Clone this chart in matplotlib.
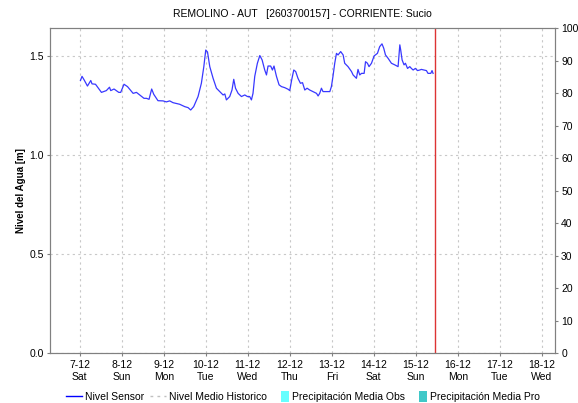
import datetime as dt

import matplotlib
matplotlib.use("Agg")
import matplotlib.pyplot as plt
import matplotlib.dates as mdates
from matplotlib.legend_handler import HandlerPatch
from matplotlib.lines import Line2D
from matplotlib.patches import Patch, Rectangle

# sensor readings: hours after 2019-12-07 00:00 and water level in metres
hours = [0.4, 1.3, 2.5, 4.4, 6.3, 7.0, 9.0, 12.4, 15.2, 17.0, 17.7, 19.6, 22.3, 23.4,
         25.3, 27.3, 30.5, 32.4, 34.3, 36.7, 38.1, 39.6, 41.1, 42.3, 43.4, 44.7, 47.6,
         49.5, 51.4, 53.3, 57.1, 60.0, 61.9, 63.4, 65.1, 67.6, 69.5, 70.9, 72.0, 73.0,
         74.3, 76.2, 78.1, 80.0, 81.9, 82.9, 83.8, 85.7, 87.0, 88.0, 89.0, 90.5, 92.4,
         94.3, 95.8, 97.1, 98.1, 99.0, 100.0, 101.5, 102.9, 104.2, 105.7, 106.7, 107.6,
         109.1, 110.1, 111.0, 112.4, 113.9, 115.3, 117.1, 119.0, 120.0, 121.1, 122.3,
         123.4, 124.7, 126.1, 127.3, 128.6, 129.9, 131.4, 133.3, 135.3, 136.2, 137.1,
         138.1, 139.0, 141.0, 142.9, 143.8, 144.7, 145.7, 146.7, 147.6, 149.1, 150.5,
         151.4, 153.3, 155.3, 156.2, 158.1, 159.0, 160.0, 161.0, 162.5, 163.3, 164.4,
         165.3, 166.7, 168.2, 170.1, 171.4, 172.7, 173.7, 174.7, 176.2, 178.1, 180.0,
         181.9, 182.9, 183.4, 184.2, 185.3, 186.1, 187.3, 188.6, 189.5, 190.5, 191.8,
         193.0, 194.3, 195.2, 196.7, 198.1, 199.0, 200.6, 201.3, 201.9]
nivel = [1.376, 1.397, 1.379, 1.348, 1.376, 1.359, 1.357, 1.316, 1.325, 1.342, 1.325,
         1.333, 1.316, 1.316, 1.357, 1.345, 1.311, 1.316, 1.303, 1.286, 1.286, 1.281,
         1.333, 1.306, 1.291, 1.274, 1.273, 1.268, 1.273, 1.264, 1.256, 1.244, 1.239,
         1.227, 1.244, 1.295, 1.362, 1.446, 1.530, 1.520, 1.446, 1.387, 1.337, 1.320,
         1.303, 1.308, 1.278, 1.295, 1.328, 1.382, 1.337, 1.311, 1.295, 1.303, 1.295,
         1.295, 1.278, 1.311, 1.397, 1.463, 1.502, 1.480, 1.429, 1.404, 1.449, 1.449,
         1.429, 1.449, 1.397, 1.354, 1.345, 1.340, 1.332, 1.325, 1.379, 1.429, 1.421,
         1.387, 1.362, 1.365, 1.328, 1.337, 1.328, 1.320, 1.311, 1.298, 1.311, 1.337,
         1.320, 1.320, 1.320, 1.345, 1.397, 1.463, 1.513, 1.505, 1.522, 1.505, 1.463,
         1.446, 1.421, 1.404, 1.387, 1.432, 1.404, 1.412, 1.412, 1.471, 1.463, 1.446,
         1.463, 1.500, 1.513, 1.547, 1.561, 1.539, 1.505, 1.488, 1.463, 1.455, 1.446,
         1.556, 1.530, 1.480, 1.455, 1.463, 1.437, 1.446, 1.437, 1.429, 1.437, 1.426,
         1.429, 1.432, 1.429, 1.426, 1.412, 1.412, 1.426, 1.412]

titulo = "REMOLINO - AUT   [2603700157] - CORRIENTE: Sucio"
ahora_h = 202.9
t0 = dt.datetime(2019, 12, 7)
fechas = [t0 + dt.timedelta(hours=h) for h in hours]

plt.rcParams["font.family"] = ["Liberation Sans", "DejaVu Sans"]
plt.rcParams["font.size"] = 7.5

fig = plt.figure(figsize=(5.78, 4.03), dpi=100)
ax = fig.add_axes([0.0865, 0.124, 0.8735, 0.8065])
gris = "#808080"

ax.plot(fechas, nivel, color="#3838ff", lw=0.9)
ax.axvline(t0 + dt.timedelta(hours=ahora_h), color="#dd3333", lw=1.0)

ax.set_xlim(dt.datetime(2019, 12, 6, 7), dt.datetime(2019, 12, 18, 7, 30))
ax.set_ylim(0, 1.641)
ax.set_yticks([0.0, 0.5, 1.0, 1.5])
ax.yaxis.set_major_formatter(plt.FormatStrFormatter("%.1f"))
ax.xaxis.set_major_locator(mdates.DayLocator())
ax.xaxis.set_major_formatter(
    plt.FuncFormatter(lambda v, p: "{}-{}\n{}".format(mdates.num2date(v).day,
                                                      mdates.num2date(v).month,
                                                      mdates.num2date(v).strftime("%a"))))
ax.grid(True, color="#c8c8c8", ls=(0, (2, 3)), lw=0.8)
ax.set_ylabel("Nivel del Agua [m]", fontsize=7, fontweight="bold", labelpad=2)
ax.tick_params(axis="both", colors=gris, labelcolor="black", length=2.5, pad=2)
ax.tick_params(axis="x", length=2, pad=3)
for s in ax.spines.values():
    s.set_color(gris)

ax2 = ax.twinx()
ax2.set_ylim(0, 100)
ax2.set_yticks(range(0, 101, 10))
ax2.tick_params(axis="y", colors=gris, labelcolor="black", length=2.5, pad=2)
for s in ax2.spines.values():
    s.set_color(gris)

fig.text(0.523, 0.965, titulo, ha="center", va="center", fontsize=7.5)


# small square swatches for the rain series, drawn at the right end of the handle box
def cuadro(legend, orig_handle, xdescent, ydescent, width, height, fontsize):
    lado = height * 1.3
    return Rectangle((width - lado * 0.75, -ydescent - 0.15 * height), lado * 0.75, lado)


handles = [Line2D([], [], color="#0000ff", lw=1.0),
           Line2D([], [], color="#c0c0c0", lw=1.0, ls=(0, (2, 3))),
           Patch(facecolor="#66ffff", edgecolor="none"),
           Patch(facecolor="#40c8c8", edgecolor="none")]
labels = ["Nivel Sensor", "Nivel Medio Historico",
          "Precipitación Media Obs", "Precipitación Media Pro"]
fig.legend(handles, labels, loc="center", bbox_to_anchor=(0.524, 0.015), ncol=4,
           frameon=False, fontsize=7.5, handlelength=1.6, handleheight=0.9,
           handletextpad=0.3, columnspacing=0.5,
           handler_map={Patch: HandlerPatch(patch_func=cuadro)})

fig.savefig("out.png", dpi=100)
